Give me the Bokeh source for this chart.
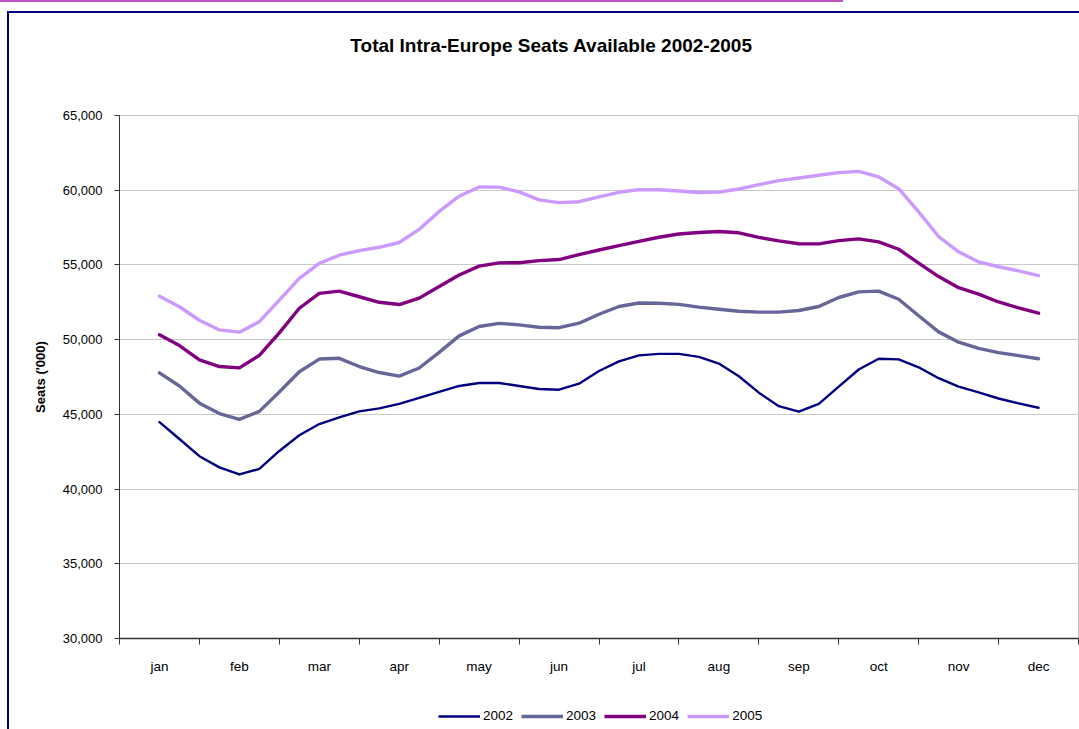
from bokeh.plotting import figure
from bokeh.layouts import column
from bokeh.models import (Range1d, FixedTicker, NumeralTickFormatter, Legend,
                          LegendItem, Label)
from bokeh.embed import file_html
from bokeh.resources import INLINE

months = ["jan", "feb", "mar", "apr", "may", "jun", "jul", "aug", "sep", "oct", "nov", "dec"]
# samples every quarter month, from mid-jan to mid-dec (45 points)
period = [i / 4 for i in range(45)]

s2002 = [44480, 43350, 42200, 41450, 40980, 41350, 42550, 43600, 44350, 44800,
         45200, 45400, 45700, 46100, 46500, 46900, 47100, 47100, 46900, 46700,
         46650, 47050, 47900, 48550, 48950, 49050, 49050, 48850, 48400, 47550,
         46450, 45550, 45180, 45700, 46850, 48000, 48720, 48680, 48150, 47420,
         46850, 46470, 46060, 45740, 45440]
s2003 = [47780, 46900, 45750, 45050, 44660, 45200, 46500, 47850, 48700, 48750,
         48200, 47800, 47560, 48100, 49150, 50250, 50880, 51090, 50990, 50830,
         50800, 51100, 51700, 52220, 52450, 52440, 52360, 52180, 52030, 51900,
         51840, 51840, 51950, 52220, 52820, 53200, 53250, 52700, 51600, 50520,
         49830, 49420, 49130, 48930, 48720]
s2004 = [50320, 49600, 48650, 48200, 48110, 48950, 50450, 52100, 53100, 53250,
         52870, 52500, 52350, 52780, 53550, 54330, 54920, 55140, 55150, 55290,
         55360, 55690, 56000, 56290, 56580, 56850, 57070, 57170, 57240, 57150,
         56840, 56610, 56420, 56410, 56630, 56740, 56540, 56050, 55120, 54220,
         53480, 53050, 52520, 52130, 51770]
s2005 = [52910, 52200, 51300, 50650, 50500, 51200, 52650, 54100, 55100, 55650,
         55960, 56180, 56500, 57380, 58580, 59600, 60220, 60210, 59890, 59350,
         59170, 59230, 59560, 59860, 60040, 60030, 59950, 59850, 59870, 60080,
         60370, 60640, 60820, 61000, 61180, 61260, 60890, 60100, 58550, 56900,
         55880, 55200, 54880, 54600, 54290]

series = [("2002", s2002, "#000080", 2.4),
          ("2003", s2003, "#666699", 3.4),
          ("2004", s2004, "#800080", 3.4),
          ("2005", s2005, "#CC99FF", 3.4)]

y_ticks = [30000, 35000, 40000, 45000, 50000, 55000, 60000, 65000]
title_text = "Total Intra-Europe Seats Available 2002-2005"

FONT = "Liberation Sans"


def strip(height):
    f = figure(width=1070, height=height, x_range=Range1d(0, 1), y_range=Range1d(0, 1),
               x_axis_type=None, y_axis_type=None,
               output_backend="svg", toolbar_location=None,
               min_border_left=0, min_border_right=0,
               min_border_top=0, min_border_bottom=0)
    f.outline_line_color = None
    f.background_fill_color = "white"
    f.border_fill_color = "white"
    f.xgrid.visible = False
    f.ygrid.visible = False
    return f


# ---------------- title strip ----------------
top = strip(50)
top.add_layout(Label(x=432, y=18, x_units="screen", y_units="screen",
                     text=title_text, text_align="center", text_baseline="middle",
                     text_font=FONT, text_font_style="bold", text_font_size="19px",
                     text_color="black"))

# ---------------- main chart ----------------
p = figure(width=1070, height=640,
           x_range=Range1d(-0.5, 11.5), y_range=Range1d(30000, 65000),
           output_backend="svg", toolbar_location=None,
           min_border_left=110, min_border_right=1,
           min_border_top=52, min_border_bottom=65)
p.background_fill_color = "white"
p.border_fill_color = "white"
p.outline_line_color = "#c0c0c0"
p.outline_line_width = 1

for name, vals, col, w in series:
    p.line(period, vals, line_color=col, line_width=w,
           line_join="round", line_cap="round")

xa = p.xaxis[0]
ya = p.yaxis[0]

xa.ticker = FixedTicker(ticks=list(range(12)),
                        minor_ticks=[i - 0.5 for i in range(13)])
xa.major_label_overrides = {i: m for i, m in enumerate(months)}
xa.major_tick_line_color = None
xa.major_tick_out = 0
xa.major_tick_in = 0
xa.minor_tick_out = 6
xa.minor_tick_in = 0
xa.minor_tick_line_color = "#333333"
xa.axis_line_color = "#333333"
xa.axis_line_width = 1.5
xa.major_label_standoff = 14
xa.major_label_text_font = FONT
xa.major_label_text_font_size = "13.5px"
xa.major_label_text_color = "black"

ya.ticker = FixedTicker(ticks=y_ticks, minor_ticks=[])
ya.formatter = NumeralTickFormatter(format="0,0")
ya.major_tick_out = 5
ya.major_tick_in = 0
ya.major_tick_line_color = "#333333"
ya.axis_line_color = "#333333"
ya.major_label_standoff = 12
ya.major_label_text_font = FONT
ya.major_label_text_font_size = "13px"
ya.major_label_text_color = "black"
ya.axis_label = "Seats ('000)"
ya.axis_label_text_font = FONT
ya.axis_label_text_font_style = "bold"
ya.axis_label_text_font_size = "13px"
ya.axis_label_standoff = 12
ya.axis_label_text_color = "black"

p.xgrid.grid_line_color = None
p.ygrid.ticker = FixedTicker(ticks=y_ticks)
p.ygrid.grid_line_color = "#c8c8c8"
p.ygrid.grid_line_width = 1

# ---------------- legend strip ----------------
leg = strip(26)
items = []
for name, vals, col, w in series:
    # same series, outside this strip's visible range: only the legend key shows
    r = leg.line(period, vals, line_color=col, line_width=w, line_cap="butt")
    items.append(LegendItem(label=name, renderers=[r]))

legend = Legend(items=items, location=(319, 6), orientation="horizontal",
                glyph_width=42, glyph_height=14, label_height=14,
                label_standoff=3, spacing=8, padding=0, margin=0,
                border_line_color=None, background_fill_alpha=0,
                label_text_font=FONT, label_text_font_size="13.5px",
                label_text_color="black")
leg.add_layout(legend)

root = column(top, p, leg, spacing=0)
root.styles = {
    "margin-left": "7px", "margin-top": "11px",
    "border-left": "2px solid #000080", "border-top": "2px solid #000080",
    "box-shadow": "836px -11px 0 0 white, -7px -9px 0 0 white, -7px -11px 0 0 #bb55bb",
}

open("out.html", "w").write(file_html(root, INLINE))
